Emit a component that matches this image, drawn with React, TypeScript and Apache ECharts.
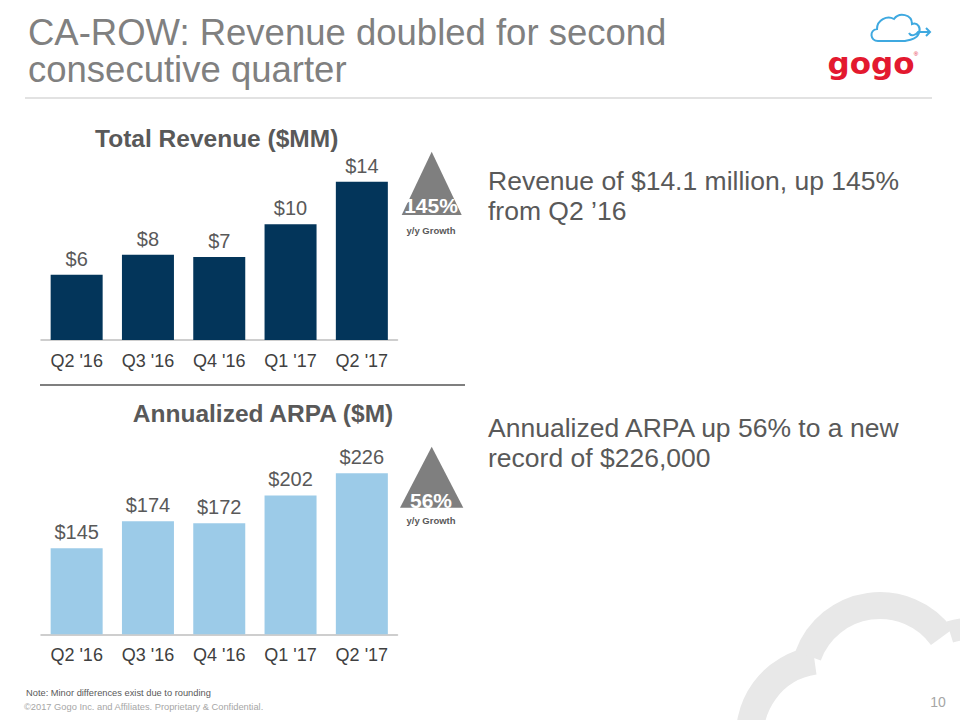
import React, { useEffect, useRef } from "react";
import * as echarts from "echarts";

const categories = ["Q2 '16", "Q3 '16", "Q4 '16", "Q1 '17", "Q2 '17"];
const revenue = [5.8, 7.6, 7.4, 10.3, 14.1];
const arpa = [145, 174, 172, 202, 226];
const titleLines = ["CA-ROW: Revenue doubled for second", "consecutive quarter"];
const revenueNote = ["Revenue of $14.1 million, up 145%", "from Q2 \u201916"];
const arpaNote = ["Annualized ARPA up 56% to a new", "record of $226,000"];
const growthRevenue = "145%";
const growthArpa = "56%";

const FONT = "'Liberation Sans', Arial, sans-serif";

const cloudPath =
  "M 878 41 C 870 41 869 30 877 29 C 877 20 887 15 894 19 C 899 12 912 14 912 24 C 918 22 921 28 919 33 C 917 39 910 40 905 41 L 878 41 Z " +
  "M 909 33 C 911 37 916 35 918 32 L 930 32 M 926 28 L 930 32 L 926 36";

let registered = false;
function ensureShapes() {
  if (registered) return;
  echarts.graphic.registerShape("gogoCloud", echarts.graphic.extendPath(cloudPath, {}) as any);
  registered = true;
}

function txt(text: string, x: number, y: number, size: number, color: string, opts: any = {}) {
  return {
    type: "text",
    x,
    y,
    z: 10,
    style: {
      text,
      fontSize: size,
      fontFamily: opts.family || FONT,
      fontWeight: opts.bold ? "bold" : "normal",
      fill: color,
      align: opts.align || "left",
      verticalAlign: "middle",
      lineHeight: opts.lineHeight,
    },
  };
}

export default function App() {
  const ref = useRef<HTMLDivElement>(null);
  useEffect(() => {
    if (!ref.current) return;
    ensureShapes();
    const chart = echarts.init(ref.current, undefined, { renderer: "svg" });
    const labelFmt = (p: any) => "$" + Math.round(p.value);
    const axisCommon = {
      type: "category" as const,
      data: categories,
      axisTick: { show: false },
      axisLine: { lineStyle: { color: "#bfbfbf", width: 1.5 } },
      axisLabel: { fontSize: 18, color: "#404040", fontFamily: FONT, margin: 12 },
    };
    const D2R = Math.PI / 180;
    chart.setOption({
      animation: false,
      backgroundColor: "#ffffff",
      grid: [
        { left: 41, width: 356.5, top: 160.3, height: 179.7 },
        { left: 41, width: 356.5, top: 460.2, height: 174.1 },
      ],
      xAxis: [
        { ...axisCommon, gridIndex: 0 },
        { ...axisCommon, gridIndex: 1 },
      ],
      yAxis: [
        { type: "value", gridIndex: 0, min: 0, max: 16, show: false },
        { type: "value", gridIndex: 1, min: 52, max: 240, show: false },
      ],
      series: [
        {
          type: "bar",
          xAxisIndex: 0,
          yAxisIndex: 0,
          data: revenue,
          barWidth: 52,
          itemStyle: { color: "#03355a" },
          label: { show: true, position: "top", distance: 6, fontSize: 20, color: "#595959", fontFamily: FONT, formatter: labelFmt },
        },
        {
          type: "bar",
          xAxisIndex: 1,
          yAxisIndex: 1,
          data: arpa,
          barWidth: 52,
          itemStyle: { color: "#9ccbe8" },
          label: { show: true, position: "top", distance: 6, fontSize: 20, color: "#595959", fontFamily: FONT, formatter: labelFmt },
        },
      ],
      graphic: [
        // background cloud
        { type: "arc", z: -5, shape: { cx: 825, cy: 735, r: 75, startAngle: 170 * D2R, endAngle: 262 * D2R, clockwise: true }, style: { stroke: "#e8e8e8", lineWidth: 28, fill: null } },
        { type: "arc", z: -5, shape: { cx: 880, cy: 682, r: 76.5, startAngle: 200 * D2R, endAngle: 324 * D2R, clockwise: true }, style: { stroke: "#e8e8e8", lineWidth: 27, fill: null } },
        { type: "arc", z: -5, shape: { cx: 970, cy: 698, r: 69, startAngle: 253 * D2R, endAngle: 330 * D2R, clockwise: true }, style: { stroke: "#e8e8e8", lineWidth: 22, fill: null } },
        // title (one two-line text block)
        txt(titleLines.join("\n"), 28, 51, 36.5, "#808080", { lineHeight: 37 }),
        { type: "line", shape: { x1: 25, y1: 98, x2: 932, y2: 98 }, style: { stroke: "#d9d9d9", lineWidth: 1.5 } },
        // logo
        { type: "gogoCloud", x: 0, y: 0, z: 10, style: { stroke: "#3fa9e0", lineWidth: 2, fill: null } },
        txt("gogo", 871, 63, 31, "#e3192f", { bold: true, align: "center", family: "'DejaVu Sans', sans-serif" }),
        txt("\u00ae", 916, 54, 6, "#e3192f", { align: "center" }),
        // chart titles
        txt("Total Revenue ($MM)", 216.7, 138, 24.5, "#595959", { bold: true, align: "center" }),
        txt("Annualized ARPA ($M)", 263, 413.3, 24.5, "#595959", { bold: true, align: "center" }),
        { type: "line", shape: { x1: 40, y1: 385, x2: 465, y2: 385 }, style: { stroke: "#7f7f7f", lineWidth: 2 } },
        // growth triangles
        { type: "polygon", shape: { points: [[431.7, 151.7], [401.7, 215], [461.7, 215]] }, style: { fill: "#7f7f7f" } },
        txt(growthRevenue, 431, 205, 21, "#ffffff", { bold: true, align: "center" }),
        txt("y/y Growth", 431, 230.7, 9.5, "#595959", { bold: true, align: "center" }),
        { type: "polygon", shape: { points: [[431.7, 446.7], [400, 507.7], [463.3, 507.7]] }, style: { fill: "#7f7f7f" } },
        txt(growthArpa, 431, 500, 21, "#ffffff", { bold: true, align: "center" }),
        txt("y/y Growth", 431, 520.7, 9.5, "#595959", { bold: true, align: "center" }),
        // right notes
        txt(revenueNote.join("\n"), 488, 196, 26.5, "#595959", { lineHeight: 30 }),
        txt(arpaNote.join("\n"), 488, 442.5, 26.5, "#595959", { lineHeight: 30 }),
        // footer
        txt("Note: Minor differences exist due to rounding", 26, 693, 9.3, "#595959"),
        txt("\u00a92017 Gogo Inc. and Affiliates. Proprietary & Confidential.", 24, 707.3, 9.3, "#a6a6a6"),
        txt("10", 938, 702, 14, "#a6a6a6", { align: "center" }),
      ],
    });
    return () => chart.dispose();
  }, []);
  return <div ref={ref} style={{ position: "fixed", left: 0, top: 0, width: 960, height: 720 }} />;
}
